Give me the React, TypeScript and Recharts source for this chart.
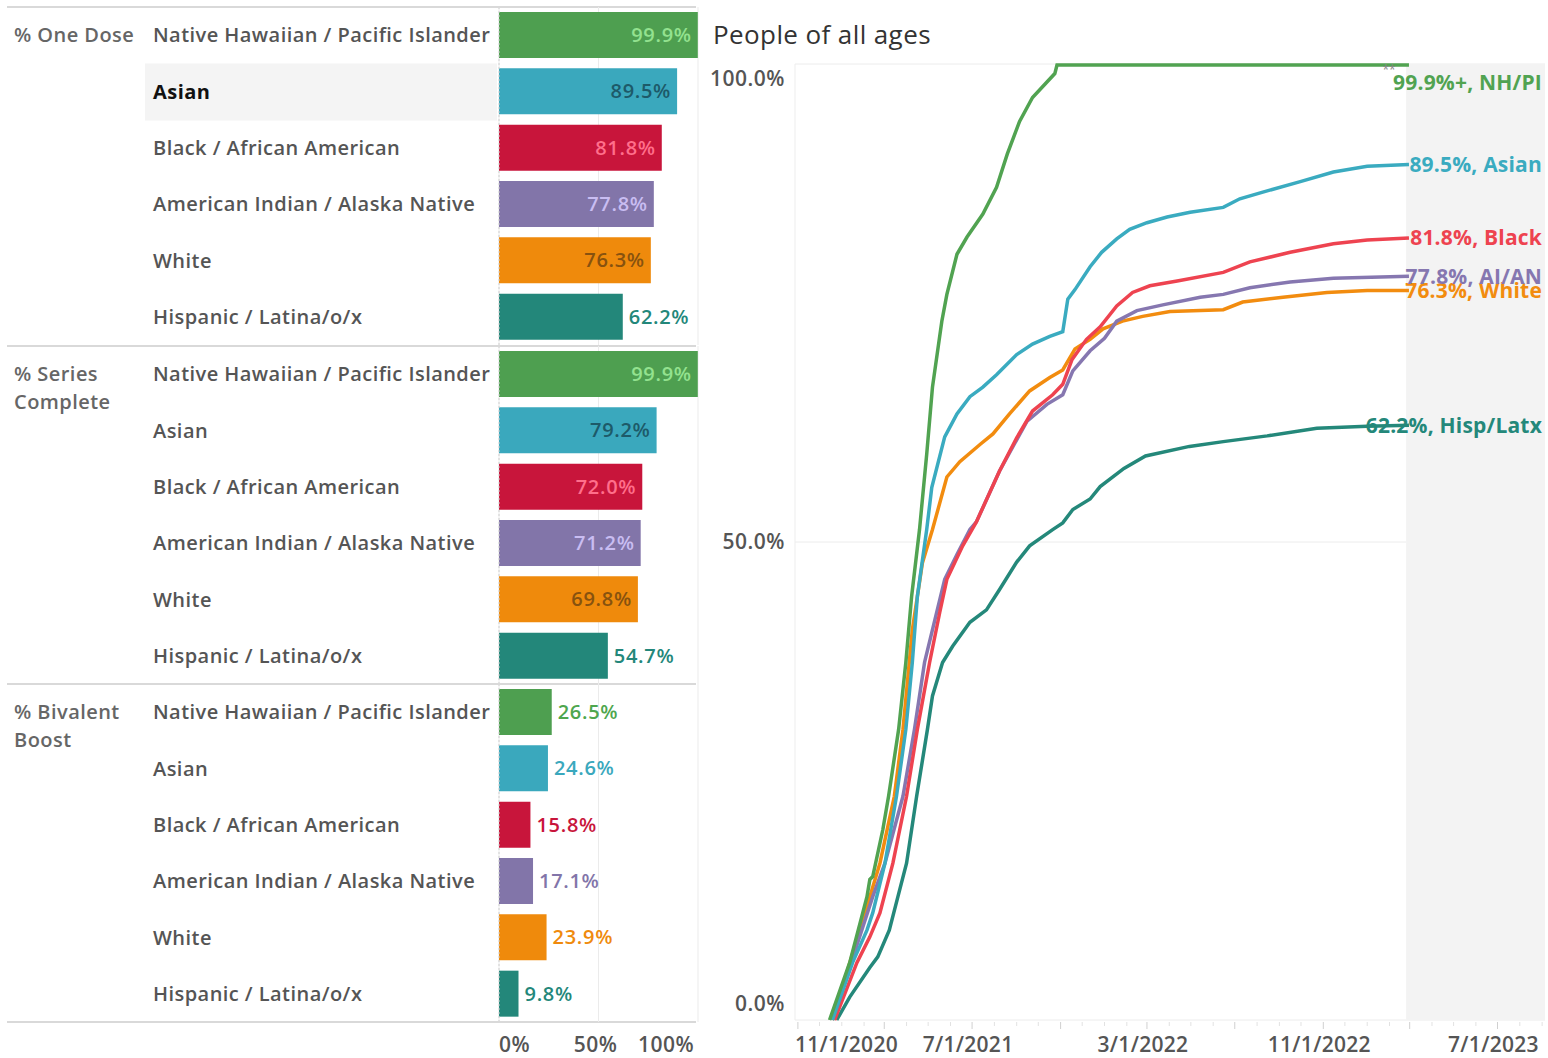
import React from "react";
import {
  BarChart,
  Bar,
  Cell,
  XAxis,
  YAxis,
  LabelList,
  ReferenceLine,
  ReferenceArea,
  LineChart,
  Line,
  CartesianGrid,
} from "recharts";

const FONT = "'Open Sans', Lato, sans-serif";
const TEXT = "#555555";

// ---- bar panel data ----
const CATEGORIES = [
  "Native Hawaiian / Pacific Islander",
  "Asian",
  "Black / African American",
  "American Indian / Alaska Native",
  "White",
  "Hispanic / Latina/o/x",
];
const SECTION_TITLES = [["% One Dose"], ["% Series", "Complete"], ["% Bivalent", "Boost"]];
const ONE_DOSE = [99.9, 89.5, 81.8, 77.8, 76.3, 62.2];
const SERIES_COMPLETE = [99.9, 79.2, 72.0, 71.2, 69.8, 54.7];
const BIVALENT_BOOST = [26.5, 24.6, 15.8, 17.1, 23.9, 9.8];
const BAR_TICKS = [0, 50, 100];

const BAR_COLORS = ["#4e9f50", "#3aa8bd", "#c8153b", "#8275a9", "#ef8a0c", "#23877a"];
const BAR_TEXT_INSIDE = ["#93e28f", "#1d5a69", "#ff6f8b", "#c9bdf2", "#87520f", "#ffffff"];
const BAR_TEXT_OUTSIDE = ["#4ea64e", "#3aa8bd", "#c8153b", "#8275a9", "#ef8a0c", "#23877a"];

// ---- line panel data (cumulative % with at least one dose) ----
const NHPI_DATES = ["2020-12-15", "2021-01-12", "2021-02-05", "2021-02-09", "2021-02-13", "2021-02-27", "2021-03-07", "2021-03-21", "2021-03-31", "2021-04-08", "2021-04-19", "2021-04-29", "2021-05-07", "2021-05-20", "2021-05-27", "2021-06-10", "2021-06-24", "2021-07-16", "2021-08-04", "2021-08-19", "2021-09-05", "2021-09-23", "2021-10-24", "2021-10-27", "2023-02-28"];
const NHPI_VALUES = [0, 6.0, 12.9, 14.7, 15.0, 19.9, 23.4, 30.4, 37.4, 44.3, 51.3, 59.2, 66.2, 73.1, 75.9, 80.1, 81.9, 84.3, 87.1, 90.6, 94.0, 96.5, 99.0, 99.9, 99.9];

const ASIAN_DATES = ["2020-12-19", "2021-01-16", "2021-02-05", "2021-02-13", "2021-03-02", "2021-03-18", "2021-03-31", "2021-04-09", "2021-04-16", "2021-04-29", "2021-05-06", "2021-05-24", "2021-06-10", "2021-06-28", "2021-07-16", "2021-08-04", "2021-09-01", "2021-09-23", "2021-10-17", "2021-11-04", "2021-11-11", "2021-11-21", "2021-12-12", "2021-12-28", "2022-01-18", "2022-02-05", "2022-03-01", "2022-03-29", "2022-04-30", "2022-06-15", "2022-07-08", "2022-08-09", "2022-09-30", "2022-11-15", "2023-01-01", "2023-02-28"];
const ASIAN_VALUES = [0, 6.0, 9.4, 11.2, 16.4, 23.4, 30.4, 37.4, 44.3, 51.3, 55.7, 61.0, 63.4, 65.2, 66.2, 67.5, 69.6, 70.7, 71.5, 72.0, 75.4, 76.4, 78.8, 80.3, 81.7, 82.7, 83.4, 84.0, 84.5, 85.0, 85.9, 86.6, 87.7, 88.7, 89.3, 89.5];

const BLACK_DATES = ["2020-12-22", "2021-01-22", "2021-02-09", "2021-02-23", "2021-03-13", "2021-04-01", "2021-04-16", "2021-05-03", "2021-05-17", "2021-05-27", "2021-06-18", "2021-07-07", "2021-08-08", "2021-09-01", "2021-09-23", "2021-10-21", "2021-11-04", "2021-11-17", "2021-12-07", "2021-12-26", "2022-01-18", "2022-02-09", "2022-03-05", "2022-04-12", "2022-06-15", "2022-07-22", "2022-09-16", "2022-11-15", "2023-01-01", "2023-02-28"];
const BLACK_VALUES = [0, 6.0, 8.7, 11.2, 16.4, 23.4, 30.4, 37.4, 42.6, 46.1, 49.6, 52.1, 57.4, 60.9, 63.7, 65.4, 66.5, 69.1, 71.2, 72.5, 74.7, 76.1, 76.8, 77.3, 78.2, 79.3, 80.3, 81.2, 81.6, 81.8];

const AIAN_DATES = ["2020-12-19", "2021-02-13", "2021-03-02", "2021-03-27", "2021-04-12", "2021-04-26", "2021-05-24", "2021-06-10", "2021-06-28", "2021-07-07", "2021-08-08", "2021-09-15", "2021-10-13", "2021-11-04", "2021-11-18", "2021-12-12", "2022-01-01", "2022-01-18", "2022-02-15", "2022-03-23", "2022-05-14", "2022-06-15", "2022-07-22", "2022-09-16", "2022-11-15", "2023-02-28"];
const AIAN_VALUES = [0, 12.9, 16.4, 23.4, 30.4, 37.4, 46.1, 48.7, 51.3, 52.1, 57.4, 62.6, 64.4, 65.4, 67.9, 70.0, 71.3, 73.1, 74.2, 74.8, 75.6, 75.9, 76.6, 77.2, 77.6, 77.8];

const WHITE_DATES = ["2020-12-19", "2021-02-09", "2021-02-23", "2021-03-15", "2021-03-27", "2021-04-09", "2021-04-23", "2021-05-07", "2021-05-27", "2021-06-14", "2021-07-12", "2021-07-30", "2021-08-22", "2021-09-19", "2021-10-17", "2021-11-04", "2021-11-21", "2021-12-12", "2021-12-30", "2022-01-26", "2022-02-23", "2022-04-02", "2022-06-15", "2022-07-12", "2022-09-06", "2022-11-06", "2023-01-01", "2023-02-28"];
const WHITE_VALUES = [0, 12.9, 16.4, 23.4, 30.4, 40.8, 47.8, 51.3, 56.8, 58.4, 60.2, 61.3, 63.4, 65.8, 67.2, 68.0, 70.2, 71.2, 72.3, 73.1, 73.6, 74.1, 74.3, 75.1, 75.6, 76.1, 76.3, 76.3];

const HISP_DATES = ["2020-12-25", "2021-01-12", "2021-02-09", "2021-02-20", "2021-03-08", "2021-03-20", "2021-04-01", "2021-04-15", "2021-04-30", "2021-05-07", "2021-05-21", "2021-06-04", "2021-06-28", "2021-07-21", "2021-08-08", "2021-09-01", "2021-09-19", "2021-10-21", "2021-11-04", "2021-11-18", "2021-12-12", "2021-12-26", "2022-01-28", "2022-02-27", "2022-04-29", "2022-06-15", "2022-08-15", "2022-10-23", "2023-01-01", "2023-02-28"];
const HISP_VALUES = [0, 2.4, 5.5, 6.6, 9.4, 12.9, 16.4, 23.4, 30.4, 33.9, 37.4, 39.1, 41.6, 42.9, 45.0, 47.9, 49.6, 51.3, 52.0, 53.4, 54.5, 55.8, 57.7, 59.0, 60.0, 60.5, 61.1, 61.9, 62.1, 62.2];

const LINE_NAMES = ["NH/PI", "Asian", "Black", "AI/AN", "White", "Hisp/Latx"];
const LINE_COLORS = ["#51a351", "#3aabc0", "#ee4350", "#8677b0", "#f28c0f", "#24887a"];
const X_LABELS = ["2020-11-01", "2021-07-01", "2022-03-01", "2022-11-01", "2023-07-01"];
const Y_TICKS = [0, 50, 100];

const toTime = (s: string) => Date.parse(s);
const X_START = toTime("2020-10-28");
const X_END = toTime("2023-09-05");
const SHADE_START = toTime("2023-02-24");

const series = [
  { dates: NHPI_DATES, values: NHPI_VALUES },
  { dates: ASIAN_DATES, values: ASIAN_VALUES },
  { dates: BLACK_DATES, values: BLACK_VALUES },
  { dates: AIAN_DATES, values: AIAN_VALUES },
  { dates: WHITE_DATES, values: WHITE_VALUES },
  { dates: HISP_DATES, values: HISP_VALUES },
].map((s, i) => ({
  name: LINE_NAMES[i],
  color: LINE_COLORS[i],
  data: s.dates.map((d, k) => ({ t: toTime(d), v: s.values[k] })),
}));
// draw order: last one ends up on top
const DRAW_ORDER = [5, 4, 3, 2, 1, 0];

// monthly tick marks along the date axis
const MONTH_TICKS: number[] = [];
for (let y = 2020, m = 10; y < 2023 || m <= 8; m++) {
  if (m > 11) {
    m = 0;
    y++;
  }
  MONTH_TICKS.push(Date.UTC(y, m, 1));
}
const LABEL_TIMES = X_LABELS.map(toTime);

const fmtDate = (t: number) => {
  const d = new Date(t);
  return `${d.getUTCMonth() + 1}/${d.getUTCDate()}/${d.getUTCFullYear()}`;
};

const labelText = {
  fontFamily: FONT,
  fontSize: 20,
  fontWeight: 600,
  letterSpacing: 0.45,
};

function CategoryTick({ y, payload, index, title, highlight }) {
  const active = highlight === index;
  return (
    <g>
      {active && <rect x={145} y={y - 28} width={352} height={57} fill="#f4f4f4" />}
      {index === 0 &&
        title.map((line, k) => (
          <text key={k} x={14} y={y + k * 28} dy="0.35em" fill="#666" {...labelText}>
            {line}
          </text>
        ))}
      <text
        x={153}
        y={y}
        dy="0.35em"
        {...labelText}
        fill={active ? "#111" : TEXT}
        fontWeight={active ? 700 : 600}
      >
        {payload.value}
      </text>
    </g>
  );
}

function BarValueLabel({ x, y, width, height, value, index }) {
  const inside = value >= 65;
  return (
    <text
      x={inside ? x + width - 6 : x + width + 6}
      y={y + height / 2}
      dy="0.35em"
      textAnchor={inside ? "end" : "start"}
      fill={inside ? BAR_TEXT_INSIDE[index] : BAR_TEXT_OUTSIDE[index]}
      {...labelText}
      letterSpacing={0.7}
    >
      {value.toFixed(1)}%
    </text>
  );
}

function BarAxisTick({ x, y, payload }) {
  const v = payload.value;
  const anchor = v === 0 ? "start" : v === 100 ? "end" : "middle";
  const dx = v === 0 ? 0 : v === 100 ? -4 : -3;
  return (
    <text x={x + dx} y={y + 21} dy="0.35em" textAnchor={anchor} fill={TEXT} {...labelText} fontSize={21}>
      {v}%
    </text>
  );
}

function BarSection({ title, values, top, showAxis, highlight }) {
  const data = CATEGORIES.map((name, i) => ({ name, value: values[i] }));
  const height = 338 + (showAxis ? 36 : 0);
  return (
    <div style={{ position: "absolute", left: 0, top, width: 700, height }}>
      <BarChart
        width={700}
        height={height}
        data={data}
        layout="vertical"
        margin={{ top: 0, right: 2, bottom: 0, left: 0 }}
      >
        <CartesianGrid horizontal={false} stroke="#ebebeb" />
        <XAxis
          type="number"
          domain={[0, 100]}
          ticks={BAR_TICKS}
          interval={0}
          hide={!showAxis}
          height={36}
          axisLine={false}
          tickLine={false}
          tickSize={0}
          tick={(p) => <BarAxisTick {...p} />}
        />
        <YAxis
          type="category"
          dataKey="name"
          width={499}
          interval={0}
          axisLine={false}
          tickLine={false}
          tick={(p) => <CategoryTick {...p} title={title} highlight={highlight} />}
        />
        <ReferenceLine x={0} stroke="#d0d0d0" strokeDasharray="2 2" />
        <Bar dataKey="value" barSize={46} isAnimationActive={false}>
          {data.map((d, i) => (
            <Cell key={d.name} fill={BAR_COLORS[i]} />
          ))}
          <LabelList dataKey="value" content={(p) => <BarValueLabel {...p} />} />
        </Bar>
      </BarChart>
    </div>
  );
}

function DateTick({ x, y, payload }) {
  const t = payload.value;
  const month = new Date(t).getUTCMonth();
  const major = month === 2 || month === 6 || month === 10;
  const labelled = LABEL_TIMES.includes(t);
  const first = t === LABEL_TIMES[0];
  return (
    <g>
      <line x1={x} x2={x} y1={y} y2={y + (major ? 7 : 4)} stroke={major ? "#d0d0d0" : "#e2e2e2"} />
      {labelled && (
        <text
          x={first ? x - 3 : x - 4}
          y={y + 23}
          dy="0.35em"
          textAnchor={first ? "start" : "middle"}
          fill={TEXT}
          {...labelText}
          fontSize={21}
          letterSpacing={0.3}
        >
          {fmtDate(t)}
        </text>
      )}
    </g>
  );
}

function PctTick({ x, y, payload }) {
  const v = payload.value;
  const shift = v === 100 ? 15 : v === 0 ? -16 : 0;
  return (
    <text
      x={x}
      y={y + shift}
      dy="0.35em"
      textAnchor="end"
      fill={TEXT}
      {...labelText}
      fontSize={21}
      letterSpacing={0.5}
    >
      {v.toFixed(1)}%
    </text>
  );
}

function EndLabel({ y, index, value, last, name, color }) {
  if (index !== last) return null;
  const capped = value >= 99.9;
  const text = `${value.toFixed(1)}%${capped ? "+" : ""}, ${name}`;
  return (
    <g>
      {capped && (
        <text x={689} y={y + 9} textAnchor="middle" fill="#888" fontSize={12} fontFamily={FONT}>
          **
        </text>
      )}
      <text
        x={842}
        y={y + (capped ? 18 : 0)}
        dy="0.35em"
        textAnchor="end"
        fill={color}
        fontSize={21}
        fontWeight={700}
        letterSpacing={0.2}
        fontFamily={FONT}
      >
        {text}
      </text>
    </g>
  );
}

export default function App() {
  return (
    <div
      style={{
        position: "absolute",
        left: 0,
        top: 0,
        width: 1548,
        height: 1058,
        background: "#fff",
        overflow: "hidden",
        fontFamily: FONT,
      }}
    >
      {[7, 346, 684, 1022].map((y) => (
        <div
          key={y}
          style={{ position: "absolute", left: 7, top: y - 1, width: 689, height: 2, background: "#d9d9d9" }}
        />
      ))}
      <BarSection title={SECTION_TITLES[0]} values={ONE_DOSE} top={7} showAxis={false} highlight={1} />
      <BarSection title={SECTION_TITLES[1]} values={SERIES_COMPLETE} top={346} showAxis={false} highlight={-1} />
      <BarSection title={SECTION_TITLES[2]} values={BIVALENT_BOOST} top={684} showAxis highlight={-1} />

      <div
        style={{
          position: "absolute",
          left: 713,
          top: 16,
          fontSize: 26,
          letterSpacing: 0.4,
          color: "#333",
          lineHeight: "36px",
          fontFamily: FONT,
        }}
      >
        People of all ages
      </div>

      <div style={{ position: "absolute", left: 700, top: 0, width: 848, height: 1058 }}>
        <LineChart width={848} height={1058} margin={{ top: 64, right: 3, bottom: 0, left: 0 }}>
          <ReferenceArea
            x1={SHADE_START}
            x2={X_END}
            y1={0}
            y2={100}
            fill="#f3f3f3"
            fillOpacity={1}
            stroke="none"
          />
          <CartesianGrid vertical={false} stroke="#ececec" />
          <XAxis
            type="number"
            dataKey="t"
            domain={[X_START, X_END]}
            allowDataOverflow
            ticks={MONTH_TICKS}
            interval={0}
            height={38}
            axisLine={false}
            tickLine={false}
            tickSize={0}
            tick={(p) => <DateTick {...p} />}
          />
          <YAxis
            type="number"
            domain={[0, 100]}
            ticks={Y_TICKS}
            width={95}
            axisLine={{ stroke: "#ededed" }}
            tickLine={false}
            tickSize={0}
            tickMargin={10}
            tick={(p) => <PctTick {...p} />}
          />
          {DRAW_ORDER.map((i) => {
            const s = series[i];
            return (
              <Line
                key={s.name}
                data={s.data}
                dataKey="v"
                type="linear"
                stroke={s.color}
                strokeWidth={3.5}
                dot={false}
                isAnimationActive={false}
              >
                <LabelList
                  dataKey="v"
                  content={(p) => (
                    <EndLabel {...p} last={s.data.length - 1} name={s.name} color={s.color} />
                  )}
                />
              </Line>
            );
          })}
        </LineChart>
      </div>
    </div>
  );
}
